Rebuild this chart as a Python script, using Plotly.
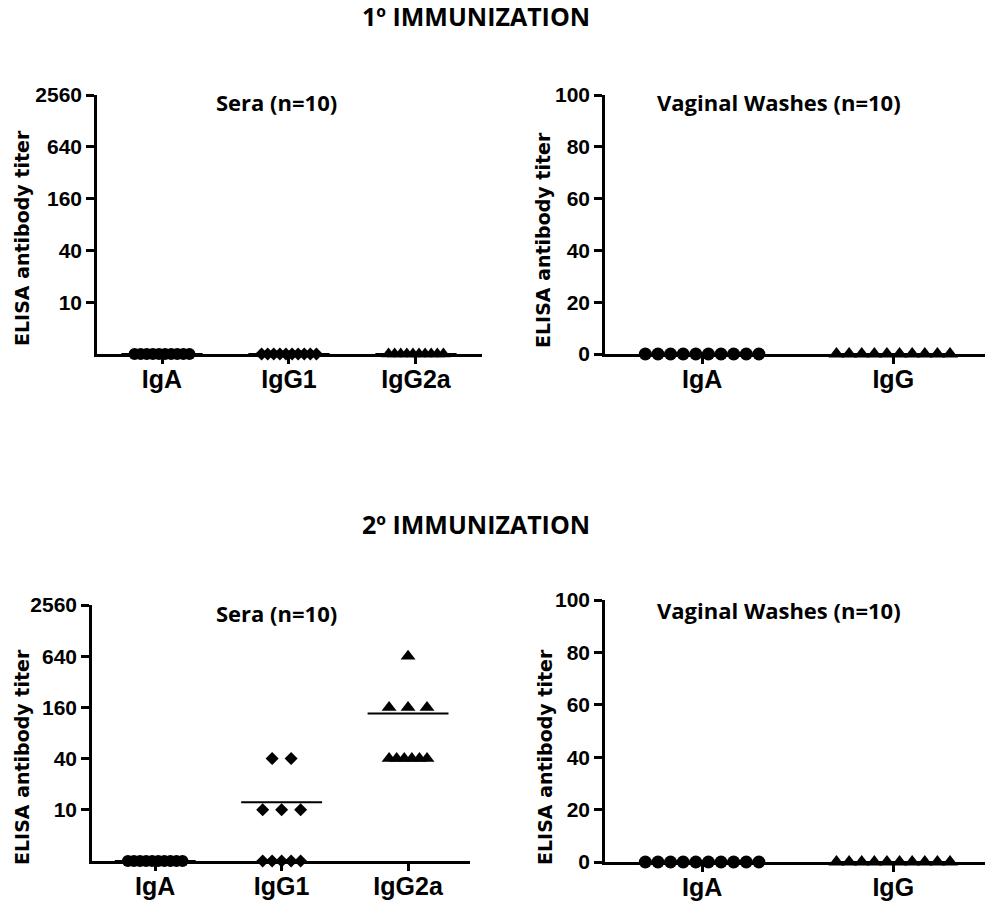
import math
import plotly.graph_objects as go

W, H = 985, 905

# ---------------- data ----------------
SERA_GROUPS = ["IgA", "IgG1", "IgG2a"]
VAG_GROUPS = ["IgA", "IgG"]
SERA_TICKS = [10, 40, 160, 640, 2560]
VAG_TICKS = [0, 20, 40, 60, 80, 100]

# 1st immunization (titers; 0 = not detected)
sera1_IgA = [0, 0, 0, 0, 0, 0, 0, 0, 0, 0]
sera1_IgG1 = [0, 0, 0, 0, 0, 0, 0, 0, 0, 0]
sera1_IgG2a = [0, 0, 0, 0, 0, 0, 0, 0, 0, 0]
vag1_IgA = [0, 0, 0, 0, 0, 0, 0, 0, 0, 0]
vag1_IgG = [0, 0, 0, 0, 0, 0, 0, 0, 0, 0]

# 2nd immunization
sera2_IgA = [0, 0, 0, 0, 0, 0, 0, 0, 0, 0]
sera2_IgG1 = [40, 40, 10, 10, 10, 0, 0, 0, 0, 0]
sera2_IgG2a = [640, 160, 160, 160, 40, 40, 40, 40, 40, 40]
vag2_IgA = [0, 0, 0, 0, 0, 0, 0, 0, 0, 0]
vag2_IgG = [0, 0, 0, 0, 0, 0, 0, 0, 0, 0]

SERA_BASE = 2.5   # non-detected sera titers sit on the log axis floor

# ---------------- helpers ----------------
def px_x(p):
    return p / W

def px_y(p):
    return 1 - p / H

def spread(values, step_min, step_max, span):
    offs = [0.0] * len(values)
    groups = {}
    for i, v in enumerate(values):
        groups.setdefault(v, []).append(i)
    for v, idx in groups.items():
        k = len(idx)
        if k == 1:
            continue
        step = max(step_min, min(step_max, span / (k - 1)))
        for j, i in enumerate(idx):
            offs[i] = (j - (k - 1) / 2) * step
    return offs

fig = go.Figure()

SYM_SERA = ["circle", "diamond", "triangle-up"]
SIZE_SERA = [12, 10, 13]
SYM_VAG = ["circle", "triangle-up"]
SIZE_VAG = [13, 14]

def add_panel(n, series, symbols, sizes, log, step_min, step_max, span, half):
    xa = "x" if n == 1 else f"x{n}"
    ya = "y" if n == 1 else f"y{n}"
    for gi, vals in enumerate(series):
        yv = [(v if v > 0 else SERA_BASE) for v in vals] if log else list(vals)
        offs = spread(yv, step_min, step_max, span)
        fig.add_trace(go.Scatter(
            x=[gi + o for o in offs], y=yv, mode="markers",
            marker=dict(symbol=symbols[gi], size=sizes[gi], color="black",
                        line=dict(width=0)),
            xaxis=xa, yaxis=ya, cliponaxis=False, showlegend=False,
            hoverinfo="skip"))
        m = sum(yv) / len(yv)
        fig.add_trace(go.Scatter(
            x=[gi - half, gi + half], y=[m, m], mode="lines",
            line=dict(color="black", width=2),
            xaxis=xa, yaxis=ya, cliponaxis=False, showlegend=False,
            hoverinfo="skip"))

add_panel(1, [sera1_IgA, sera1_IgG1, sera1_IgG2a], SYM_SERA, SIZE_SERA,
          True, 0.048, 0.15, 0.3, 0.32)
add_panel(2, [vag1_IgA, vag1_IgG], SYM_VAG, SIZE_VAG,
          False, 0.066, 0.1, 0.3, 0.3)
add_panel(3, [sera2_IgA, sera2_IgG1, sera2_IgG2a], SYM_SERA, SIZE_SERA,
          True, 0.048, 0.15, 0.3, 0.32)
add_panel(4, [vag2_IgA, vag2_IgG], SYM_VAG, SIZE_VAG,
          False, 0.066, 0.1, 0.3, 0.3)

TICKF = dict(family="Liberation Sans, Arial, sans-serif", size=21, color="black", weight="bold")
XTICKF = dict(family="Liberation Sans, Arial, sans-serif", size=25, color="black", weight="bold")

COMMON = dict(showline=True, linecolor="black", linewidth=2.5,
              ticks="outside", tickwidth=2.5, tickcolor="black",
              showgrid=False, zeroline=False, fixedrange=True, automargin=False)

def xaxis(dom, rng, groups, anchor):
    return dict(domain=[px_x(dom[0]), px_x(dom[1])], range=rng, anchor=anchor,
                tickmode="array", tickvals=list(range(len(groups))), ticktext=groups,
                ticklen=7, ticklabelstandoff=-6, tickfont=XTICKF, **COMMON)

def yaxis_log(dom, anchor):
    return dict(domain=[px_y(dom[1]), px_y(dom[0])], type="log",
                range=[math.log10(SERA_BASE), math.log10(SERA_TICKS[-1])], anchor=anchor,
                tickmode="array", tickvals=SERA_TICKS, ticktext=[str(t) for t in SERA_TICKS],
                ticklen=8, tickfont=TICKF, **COMMON)

def yaxis_lin(dom, anchor):
    return dict(domain=[px_y(dom[1]), px_y(dom[0])], range=[VAG_TICKS[0], VAG_TICKS[-1]],
                anchor=anchor, tickmode="array", tickvals=VAG_TICKS,
                ticktext=[str(t) for t in VAG_TICKS],
                ticklen=8, tickfont=TICKF, **COMMON)

fig.update_layout(
    width=W, height=H, margin=dict(l=0, r=0, t=0, b=0, pad=0, autoexpand=False),
    paper_bgcolor="white", plot_bgcolor="white",
    xaxis=xaxis((97, 482), [-0.512, 2.52], SERA_GROUPS, "y"),
    yaxis=yaxis_log((95, 354), "x"),
    xaxis2=xaxis((605, 985), [-0.508, 1.48], VAG_GROUPS, "y2"),
    yaxis2=yaxis_lin((95, 354), "x2"),
    xaxis3=xaxis((92, 470), [-0.50, 2.49], SERA_GROUPS, "y3"),
    yaxis3=yaxis_log((605, 861), "x3"),
    xaxis4=xaxis((605, 985), [-0.508, 1.48], VAG_GROUPS, "y4"),
    yaxis4=yaxis_lin((600, 862), "x4"),
)

TITLE_F = dict(family="Open Sans, Lato, sans-serif", size=25, color="black", weight="bold")
SUB_F = dict(family="Open Sans, Lato, sans-serif", size=22, color="black", weight="bold")
YT_F = dict(family="DejaVu Sans, sans-serif", size=19, color="black", weight="bold")

def ann(text, x, y, font, angle=0):
    fig.add_annotation(text=text, xref="paper", yref="paper", x=px_x(x), y=px_y(y),
                       xanchor="center", yanchor="middle", showarrow=False,
                       font=font, textangle=angle)

ann("1º IMMUNIZATION", 476, 16, TITLE_F)
ann("2º IMMUNIZATION", 476, 524, TITLE_F)
ann("Sera (n=10)", 276, 102, SUB_F)
ann("Vaginal Washes (n=10)", 779, 102, SUB_F)
ann("Sera (n=10)", 276, 613, SUB_F)
ann("Vaginal Washes (n=10)", 779, 610, SUB_F)
ann("ELISA antibody titer", 22, 238, YT_F, -90)
ann("ELISA antibody titer", 543, 240, YT_F, -90)
ann("ELISA antibody titer", 22, 757, YT_F, -90)
ann("ELISA antibody titer", 545, 757, YT_F, -90)

fig.write_html("out.html", config={"displayModeBar": False},
               post_script="document.body.style.margin='0';document.body.style.overflow='hidden';")
